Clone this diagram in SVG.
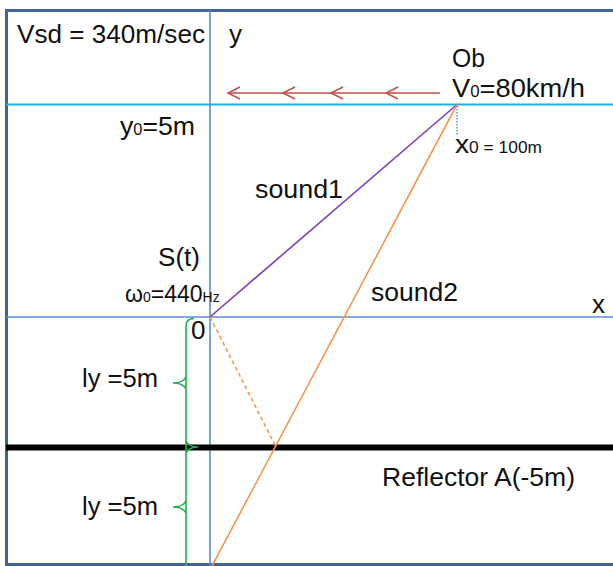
<svg xmlns="http://www.w3.org/2000/svg" width="613" height="566" viewBox="0 0 613 566">
<style>
text{font-family:"Liberation Sans",Arial,sans-serif;font-size:26px;fill:#111}
.sm{font-size:16px}
.w{font-size:23px}
.w .s{font-size:14px}
.axis{stroke:#5b8bd0;stroke-width:1.6;fill:none}
.cyan{stroke:#1eaeea;stroke-width:1.8;fill:none}
.red{stroke:#c0504d;stroke-width:1.5;fill:none}
.org{stroke:#f7964a;stroke-width:1.6;fill:none}
.grn{stroke:#22b04e;stroke-width:1.6;fill:none}
</style>
<rect x="0" y="0" width="613" height="566" fill="#fff"/>
<g id="frame">
<rect x="6.5" y="10.5" width="640" height="554" fill="none" stroke="#3d6399" stroke-width="3"/>
</g>
<g id="connectors">
<line class="cyan" x1="6" y1="104.5" x2="613" y2="104.5"/>
<line class="axis" x1="210" y1="10" x2="210" y2="566"/>
<line class="axis" x1="6" y1="317" x2="613" y2="317"/>
<line x1="6" y1="447.5" x2="613" y2="447.5" stroke="#000" stroke-width="6"/>
<line x1="210" y1="317" x2="457" y2="104.5" stroke="#7a40bd" stroke-width="1.6"/>
<line class="org" x1="457" y1="104.5" x2="212" y2="566"/>
<line class="org" x1="210" y1="317" x2="276" y2="447" stroke-dasharray="4,3"/>
<line x1="457" y1="106" x2="457" y2="136" stroke="#5b8bd0" stroke-width="1.4" stroke-dasharray="1.5,1.5"/>
<g id="motion">
<line class="red" x1="228" y1="93" x2="440" y2="93"/>
<path class="red" d="M240,87 L228,93 L240,99 M295,87 L283,93 L295,99 M343,87 L331,93 L343,99 M398,87 L386,93 L398,99"/>
</g>
<g id="brace">
<path class="grn" d="M194,318.5 Q186,318.5 186,326 L186,566"/>
<path class="grn" d="M173,383 Q183,383 186,377 M173,383 Q183,383 186,389"/>
<path class="grn" d="M198,447 Q189,447 186,441 M198,447 Q189,447 186,453"/>
<path class="grn" d="M173,507 Q183,507 186,501 M173,507 Q183,507 186,513"/>
</g>
</g>
<g id="labels">
<text x="17" y="43" textLength="188" lengthAdjust="spacingAndGlyphs">Vsd = 340m/sec</text>
<text x="229" y="43">y</text>
<text x="452" y="67" textLength="33" lengthAdjust="spacingAndGlyphs">Ob</text>
<text x="452" y="97" textLength="133" lengthAdjust="spacingAndGlyphs">V<tspan class="sm">0</tspan>=80km/h</text>
<text x="455" y="153" textLength="87" lengthAdjust="spacingAndGlyphs">x<tspan class="sm">0 = 100m</tspan></text>
<text x="120" y="135" textLength="75" lengthAdjust="spacingAndGlyphs">y<tspan class="sm">0</tspan>=5m</text>
<text x="255" y="198" textLength="88" lengthAdjust="spacingAndGlyphs">sound1</text>
<text x="158" y="266" textLength="42" lengthAdjust="spacingAndGlyphs">S(t)</text>
<text class="w" x="125" y="302">ω<tspan class="s">0</tspan>=440<tspan class="s">Hz</tspan></text>
<text x="371" y="301" textLength="87" lengthAdjust="spacingAndGlyphs">sound2</text>
<text x="592" y="313">x</text>
<text x="191" y="339">0</text>
<text x="82" y="387" textLength="76" lengthAdjust="spacingAndGlyphs">ly =5m</text>
<text x="382" y="486" textLength="193" lengthAdjust="spacingAndGlyphs">Reflector A(-5m)</text>
<text x="82" y="515" textLength="76" lengthAdjust="spacingAndGlyphs">ly =5m</text>
</g>
</svg>
